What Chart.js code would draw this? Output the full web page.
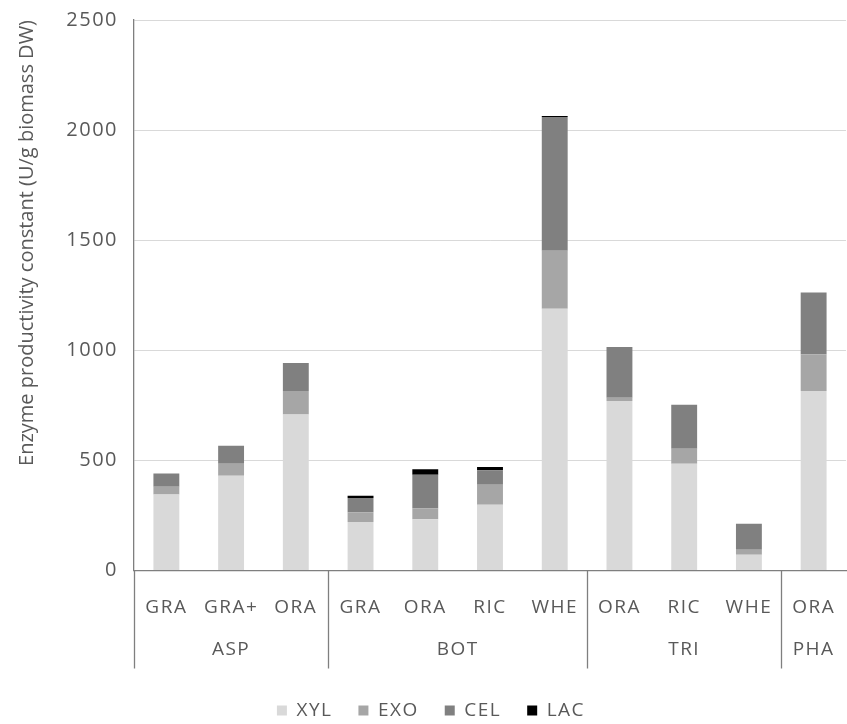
<!DOCTYPE html>
<html>
<head>
<meta charset="utf-8">
<script src="https://cdn.jsdelivr.net/npm/chart.js@4.4.1/dist/chart.umd.min.js"></script>
<style>
  html, body { margin: 0; padding: 0; background: #ffffff; }
  #wrap { width: 847px; height: 724px; }
</style>
</head>
<body>
<div id="wrap"><canvas id="chart" width="847" height="724"></canvas></div>
<script>
// Substrate (first axis level) and organism groups (second axis level)
const categories = ['GRA', 'GRA+', 'ORA', 'GRA', 'ORA', 'RIC', 'WHE', 'ORA', 'RIC', 'WHE', 'ORA'];
const groupNames = ['ASP', 'BOT', 'TRI', 'PHA'];
const groupSizes = [3, 4, 3, 1];

// Enzyme productivity constants, U/g biomass DW
const xyl = [345, 430, 709, 220, 233, 299, 1189, 770, 485, 71, 815];
const exo = [35, 55, 106, 44, 50, 90, 263, 15, 68, 23, 167];
const cel = [60, 82, 127, 65, 152, 66, 607, 230, 200, 118, 280];
const lac = [0, 0, 0, 10, 25, 15, 5, 0, 0, 0, 0];

const yTicks = [0, 500, 1000, 1500, 2000, 2500];

const FONT = '"Open Sans", "Liberation Sans", sans-serif';
const TEXT = '#595959';
const AXIS = '#7f7f7f';
const SPACING = '1.5px';

// Slightly wider text tracking for tick, category and legend labels
const tracking = {
  id: 'tracking',
  beforeLayout(chart) { chart.ctx.letterSpacing = SPACING; },
  beforeDraw(chart) { chart.ctx.letterSpacing = SPACING; }
};

// Legend sits a little right of the canvas centre
const legendShift = {
  id: 'legendShift',
  afterLayout(chart) {
    if (chart.legend) {
      chart.legend.left += 8;
      chart.legend.right += 8;
    }
  }
};

// Two-level category axis: substrate labels, organism labels and group dividers
const groupAxis = {
  id: 'groupAxis',
  afterDraw(chart) {
    const ctx = chart.ctx;
    const x = chart.scales.x;
    const area = chart.chartArea;
    const half = (x.getPixelForValue(1) - x.getPixelForValue(0)) / 2;
    ctx.save();
    ctx.letterSpacing = SPACING;
    ctx.fillStyle = TEXT;
    ctx.font = '19px ' + FONT;
    ctx.textAlign = 'center';
    ctx.textBaseline = 'middle';
    categories.forEach((c, i) => {
      ctx.fillText(c, x.getPixelForValue(i), area.bottom + 37);
    });
    ctx.strokeStyle = AXIS;
    ctx.lineWidth = 1.3;
    let start = 0;
    groupNames.forEach((g, k) => {
      const end = start + groupSizes[k] - 1;
      const left = x.getPixelForValue(start) - half;
      const right = x.getPixelForValue(end) + half;
      ctx.fillText(g, (left + right) / 2, area.bottom + 79);
      ctx.beginPath();
      ctx.moveTo(Math.round(left) + 0.5, area.bottom);
      ctx.lineTo(Math.round(left) + 0.5, area.bottom + 98);
      ctx.stroke();
      start = end + 1;
    });
    ctx.restore();
  }
};

new Chart(document.getElementById('chart'), {
  type: 'bar',
  data: {
    labels: categories,
    datasets: [
      { label: 'XYL', data: xyl, backgroundColor: '#d9d9d9' },
      { label: 'EXO', data: exo, backgroundColor: '#a6a6a6' },
      { label: 'CEL', data: cel, backgroundColor: '#808080' },
      { label: 'LAC', data: lac, backgroundColor: '#000000' }
    ]
  },
  options: {
    responsive: false,
    animation: false,
    devicePixelRatio: 1,
    layout: { padding: { top: 20, right: 1, left: 0, bottom: -6 } },
    datasets: { bar: { barPercentage: 0.4, categoryPercentage: 1.0, borderWidth: 0 } },
    scales: {
      x: {
        stacked: true,
        grid: { display: false },
        border: { display: true, color: AXIS, width: 1.3 },
        ticks: { display: false },
        afterFit(s) { s.height = 110.5 - 6; }
      },
      y: {
        stacked: true,
        min: 0,
        max: 2500,
        afterBuildTicks(s) { s.ticks = yTicks.map(v => ({ value: v })); },
        grid: { color: '#d9d9d9', lineWidth: 1, drawTicks: false },
        border: { display: true, color: AXIS, width: 1.3 },
        ticks: {
          color: TEXT,
          font: { family: FONT, size: 20 },
          padding: 16,
          callback: v => String(v)
        },
        title: {
          display: true,
          text: 'Enzyme productivity constant (U/g biomass DW)',
          color: TEXT,
          align: 'end',
          font: { family: FONT, size: 20 },
          padding: { top: 15, bottom: 0 }
        },
        afterFit(s) {
          s.width = 134;
          s.paddingTop = 0;
          s.paddingBottom = 0;
        },
        afterUpdate(s) {
          // the axis title keeps normal tracking
          if (!s._plainTitle) {
            const drawTitle = s.drawTitle.bind(s);
            s.drawTitle = function () {
              const prev = this.ctx.letterSpacing;
              this.ctx.letterSpacing = '0px';
              drawTitle();
              this.ctx.letterSpacing = prev;
            };
            s._plainTitle = true;
          }
        }
      }
    },
    plugins: {
      legend: {
        position: 'bottom',
        labels: {
          color: TEXT,
          font: { family: FONT, size: 19 },
          boxWidth: 10,
          boxHeight: 10,
          padding: 26
        }
      },
      tooltip: { enabled: false }
    }
  },
  plugins: [tracking, legendShift, groupAxis]
});
</script>
</body>
</html>
